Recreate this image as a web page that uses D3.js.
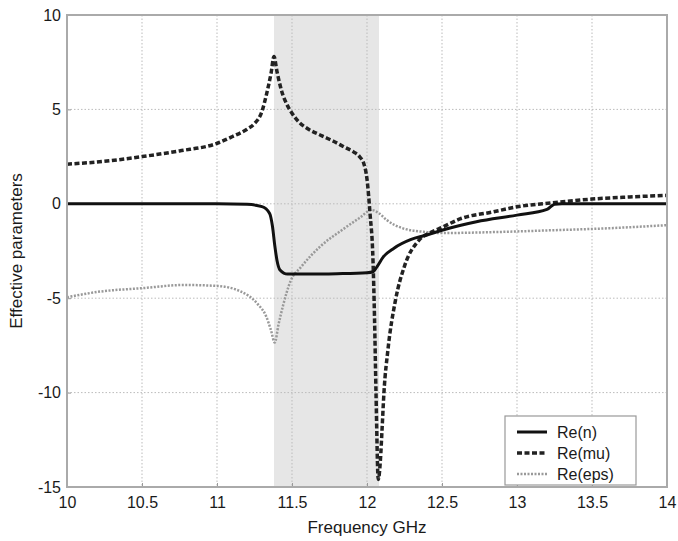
<!DOCTYPE html>
<html>
<head>
<meta charset="utf-8">
<script src="https://cdn.jsdelivr.net/npm/d3@7"></script>
<style>
    body { margin: 0; background: #fff; }
    svg text { font-family: "Liberation Sans", Arial, Helvetica, sans-serif; fill: #1a1a1a; }
</style>
</head>
<body>
<svg id="chart" width="678" height="541"></svg>
<script>
// frequency (GHz) / value pairs
var n_freq = [10, 11.0, 11.2, 11.3, 11.35, 11.37, 11.385, 11.4, 11.42, 11.47, 11.6, 11.8, 12.0, 12.04, 12.065, 12.11, 12.18, 12.29, 12.4, 12.5, 12.73, 13.0, 13.2, 13.25, 13.3, 14];
var n_vals = [0, 0, -0.03, -0.15, -0.5, -1.2, -2.2, -3.0, -3.5, -3.72, -3.72, -3.7, -3.65, -3.6, -3.35, -2.8, -2.35, -1.9, -1.65, -1.4, -0.95, -0.6, -0.3, -0.02, 0, 0];

var mu_freq = [10.0, 10.25, 10.5, 10.75, 11.0, 11.1, 11.2, 11.25, 11.3, 11.33, 11.36, 11.38, 11.4, 11.43, 11.47, 11.5, 11.55, 11.6, 11.7, 11.78, 11.85, 11.91, 11.95, 11.98, 12.0, 12.02, 12.04, 12.05, 12.06, 12.075, 12.09, 12.1, 12.113, 12.14, 12.19, 12.25, 12.35, 12.43, 12.5, 12.62, 12.84, 13.0, 13.24, 13.5, 13.75, 14.0];
var mu_vals = [2.1, 2.25, 2.5, 2.8, 3.2, 3.55, 3.95, 4.25, 4.9, 5.8, 6.9, 7.8, 7.0, 6.0, 5.2, 4.8, 4.3, 4.0, 3.6, 3.3, 3.0, 2.75, 2.5, 2.1, 1.3, -0.5, -3.0, -6, -10, -14.6, -13.5, -12.0, -10, -7.7, -5.1, -3.3, -1.9, -1.5, -1.25, -0.8, -0.43, -0.16, 0.05, 0.25, 0.36, 0.45];

var eps_freq = [10, 10.22, 10.5, 10.78, 11.0, 11.16, 11.27, 11.33, 11.36, 11.385, 11.41, 11.44, 11.49, 11.56, 11.69, 11.84, 11.95, 12.03, 12.08, 12.13, 12.24, 12.4, 12.5, 12.84, 13.24, 13.6, 14.0];
var eps_vals = [-4.95, -4.65, -4.47, -4.3, -4.35, -4.65, -5.3, -6.0, -6.7, -7.35, -6.4, -5.4, -4.1, -3.35, -2.25, -1.35, -0.75, -0.33, -0.5, -0.85, -1.3, -1.5, -1.55, -1.5, -1.4, -1.3, -1.13];

var band = [11.38, 12.08];
var x_ticks = [10, 10.5, 11, 11.5, 12, 12.5, 13, 13.5, 14];
var y_ticks = [-15, -10, -5, 0, 5, 10];
var legend_names = ["Re(n)", "Re(mu)", "Re(eps)"];

var margin = {"top": 15, "right": 11, "bottom": 54, "left": 67},
    width = 678 - margin.left - margin.right,
    height = 541 - margin.top - margin.bottom;

var svg = d3.select("svg#chart")
    .append("g")
        .attr("transform", "translate(" + [margin.left, margin.top] + ")");

var x = d3.scaleLinear().domain([10, 14]).range([0, width]);
var y = d3.scaleLinear().domain([-15, 10]).range([height, 0]);

// shaded band
svg.append("rect")
    .attr("x", x(band[0]))
    .attr("y", 0)
    .attr("width", x(band[1]) - x(band[0]))
    .attr("height", height)
    .attr("fill", "#e6e6e6");

// grid
svg.append("g")
    .selectAll("line")
    .data(x_ticks.slice(1, -1))
    .enter()
    .append("line")
        .attr("x1", function(d) { return x(d); })
        .attr("x2", function(d) { return x(d); })
        .attr("y1", 0)
        .attr("y2", height)
        .attr("stroke", "#bbb")
        .attr("stroke-width", 1)
        .attr("stroke-dasharray", "1.5,2");

svg.append("g")
    .selectAll("line")
    .data(y_ticks.slice(1, -1))
    .enter()
    .append("line")
        .attr("x1", 0)
        .attr("x2", width)
        .attr("y1", function(d) { return y(d); })
        .attr("y2", function(d) { return y(d); })
        .attr("stroke", "#bbb")
        .attr("stroke-width", 1)
        .attr("stroke-dasharray", "1.5,2");

// axes (plain hyphen minus, like the original)
var fmt = function(d) { return String(d); };

var x_axis = svg.append("g")
    .attr("transform", "translate(0," + height + ")")
    .call(d3.axisBottom(x).tickValues(x_ticks).tickSize(-4).tickPadding(10).tickFormat(fmt));

var y_axis = svg.append("g")
    .call(d3.axisLeft(y).tickValues(y_ticks).tickSize(-4).tickPadding(6).tickFormat(fmt));

[x_axis, y_axis].forEach(function(a) {
    a.select(".domain").remove();
    a.selectAll(".tick line").attr("stroke", "#999");
    a.selectAll(".tick text")
        .style("font-size", "16px")
        .style("font-family", "'Liberation Sans', Arial, sans-serif")
        .attr("fill", "#1a1a1a");
});

// series
var line = d3.line()
    .x(function(d) { return x(d[0]); })
    .y(function(d) { return y(d[1]); })
    .curve(d3.curveMonotoneX);

var series = [
    {"name": "Re(eps)", "data": d3.zip(eps_freq, eps_vals), "color": "#999", "width": 2.5, "dash": "2,1.5"},
    {"name": "Re(mu)", "data": d3.zip(mu_freq, mu_vals), "color": "#222", "width": 3.5, "dash": "5,2.5"},
    {"name": "Re(n)", "data": d3.zip(n_freq, n_vals), "color": "#111", "width": 3, "dash": null}
];

svg.selectAll("path.series")
    .data(series)
    .enter()
    .append("path")
        .attr("class", "series")
        .attr("d", function(d) { return line(d.data); })
        .attr("fill", "none")
        .attr("stroke", function(d) { return d.color; })
        .attr("stroke-width", function(d) { return d.width; })
        .attr("stroke-dasharray", function(d) { return d.dash; });

// frame
svg.append("rect")
    .attr("width", width)
    .attr("height", height)
    .attr("fill", "none")
    .attr("stroke", "#aaa")
    .attr("stroke-width", 2);

// legend
var legend_g = svg.append("g")
    .attr("class", "legend")
    .attr("transform", "translate(" + [438, 401] + ")");

legend_g.append("rect")
    .attr("width", 131)
    .attr("height", 69)
    .attr("fill", "#fff")
    .attr("stroke", "#999")
    .attr("stroke-width", 1.2);

var legend_label_g = legend_g.selectAll("g.legend_label")
    .data(legend_names.map(function(name) {
        return series.filter(function(s) { return s.name === name; })[0];
    }))
    .enter()
    .append("g")
        .attr("class", "legend_label")
        .attr("transform", function(d, i) {
            return "translate(" + [0, 16 + 21 * i] + ")";
        });

legend_label_g.append("line")
    .attr("x1", 12)
    .attr("x2", 42)
    .attr("stroke", function(d) { return d.color; })
    .attr("stroke-width", function(d) { return d.width; })
    .attr("stroke-dasharray", function(d) { return d.dash; });

legend_label_g.append("text")
    .attr("x", 52)
    .attr("dy", "0.35em")
    .style("font-size", "16px")
    .text(function(d) { return d.name; });

// axis titles
svg.append("text")
    .attr("x", width / 2)
    .attr("y", height + 46)
    .attr("text-anchor", "middle")
    .style("font-size", "17px")
    .text("Frequency GHz");

svg.append("text")
    .attr("transform", "translate(" + [-45, height / 2] + ") rotate(-90)")
    .attr("text-anchor", "middle")
    .style("font-size", "17px")
    .text("Effective parameters");
</script>
</body>
</html>
